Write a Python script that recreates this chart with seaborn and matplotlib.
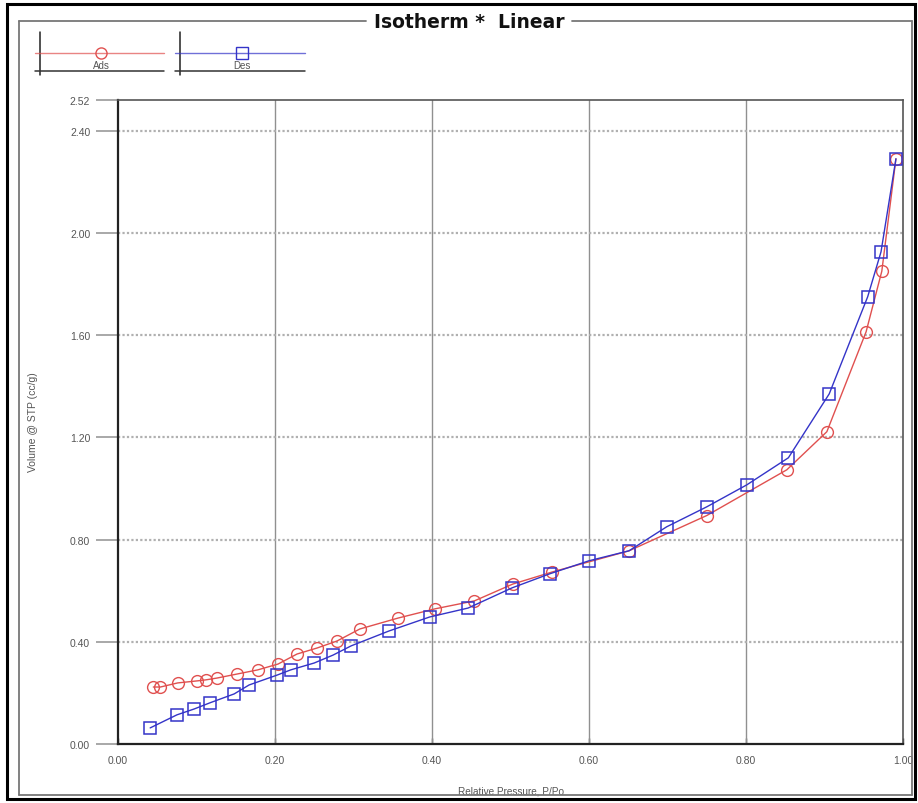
import matplotlib
matplotlib.use("Agg")
import matplotlib.pyplot as plt
import seaborn as sns
import pandas as pd
from matplotlib.lines import Line2D
from matplotlib.patches import Rectangle

# ---- data ----
ads_p = [0.045, 0.054, 0.076, 0.101, 0.112, 0.126, 0.152, 0.178, 0.204, 0.228,
         0.254, 0.279, 0.308, 0.357, 0.404, 0.454, 0.503, 0.553, 0.651, 0.750,
         0.852, 0.903, 0.953, 0.973, 0.991]
ads_v = [0.223, 0.223, 0.239, 0.247, 0.251, 0.258, 0.274, 0.290, 0.313, 0.352,
         0.376, 0.403, 0.450, 0.493, 0.529, 0.560, 0.626, 0.673, 0.756, 0.894,
         1.073, 1.222, 1.613, 1.850, 2.290]
des_p = [0.041, 0.075, 0.097, 0.117, 0.148, 0.167, 0.203, 0.220, 0.250, 0.274,
         0.297, 0.345, 0.397, 0.446, 0.502, 0.550, 0.600, 0.651, 0.699, 0.750,
         0.801, 0.854, 0.906, 0.955, 0.972, 0.991]
des_v = [0.063, 0.114, 0.137, 0.161, 0.196, 0.231, 0.270, 0.290, 0.317, 0.348,
         0.384, 0.442, 0.497, 0.532, 0.611, 0.666, 0.717, 0.756, 0.850, 0.928,
         1.014, 1.120, 1.370, 1.750, 1.926, 2.290]
x_ticks = [0.0, 0.2, 0.4, 0.6, 0.8, 1.0]
x_labels = ["0.00", "0.20", "0.40", "0.60", "0.80", "1.00"]
y_ticks = [0.0, 0.4, 0.8, 1.2, 1.6, 2.0, 2.4, 2.52]
y_labels = ["0.00", "0.40", "0.80", "1.20", "1.60", "2.00", "2.40", "2.52"]
title = "Isotherm *  Linear"
series_names = ["Ads", "Des"]

ADS_C = "#e0504f"
DES_C = "#3434c8"
TXT_C = "#555555"

sns.set_style("white")
plt.rcParams["font.family"] = ["Liberation Sans", "DejaVu Sans"]

W, H = 918, 804
fig = plt.figure(figsize=(W / 100, H / 100), dpi=100)


def fx(px):
    return px / W


def fy(py):
    return 1 - py / H


ax = fig.add_axes([fx(118), fy(745), (903 - 118) / W, (745 - 101) / H])

ads_df = pd.DataFrame({"p": ads_p, "v": ads_v})
des_df = pd.DataFrame({"p": des_p, "v": des_v})

sns.lineplot(data=ads_df, x="p", y="v", ax=ax, sort=False, color=ADS_C,
             lw=1.0, marker="o", markersize=8.5, markerfacecolor="none",
             markeredgecolor=ADS_C, markeredgewidth=1.0, zorder=3)
sns.lineplot(data=des_df, x="p", y="v", ax=ax, sort=False, color=DES_C,
             lw=1.0, marker="s", markersize=9, markerfacecolor="none",
             markeredgecolor=DES_C, markeredgewidth=1.1, zorder=4)

ax.set_xlim(0, 1.0)
ax.set_ylim(0, 2.52)
ax.set_xticks(x_ticks)
ax.set_xticklabels(x_labels)
ax.set_yticks(y_ticks)
ax.set_yticklabels(y_labels)

for v in x_ticks[1:-1]:
    ax.axvline(v, color="#909090", lw=1.0, zorder=1)
for v in y_ticks[1:-1]:
    ax.axhline(v, color="#b0b0b0", lw=1.6, ls=(0, (1, 1)), zorder=1)

ax.tick_params(axis="y", direction="out", length=16, width=1.2,
               color="#9a9a9a", labelsize=7.5, labelcolor=TXT_C, pad=4, left=True)
ax.tick_params(axis="x", direction="in", length=4, width=1.0,
               color="#333333", labelsize=7.5, labelcolor=TXT_C, pad=8, bottom=True)

for side in ["left", "bottom"]:
    ax.spines[side].set_color("#222222")
    ax.spines[side].set_linewidth(1.6)
for side in ["top", "right"]:
    ax.spines[side].set_color("#555555")
    ax.spines[side].set_linewidth(1.2)
    ax.spines[side].set_visible(True)

ax.set_xlabel("Relative Pressure, P/Po", fontsize=7.2, color=TXT_C)
ax.set_ylabel("Volume @ STP (cc/g)", fontsize=7.5, color=TXT_C)
ax.xaxis.set_label_coords(0.5, (745 - 787) / 644)
ax.yaxis.set_label_coords((38 - 118) / 785, (745 - 422) / 644)

# ---- outer frames ----
fig.add_artist(Rectangle((fx(7), fy(800)), (915 - 7) / W, (800 - 5) / H,
                         transform=fig.transFigure, fill=False,
                         edgecolor="black", lw=2.2))
gray = "#777777"
for (x0, y0, x1, y1) in [(19, 22, 366, 22), (572, 22, 912, 22),
                         (19, 22, 19, 796), (912, 22, 912, 796),
                         (19, 796, 912, 796)]:
    fig.add_artist(Line2D([fx(x0), fx(x1)], [fy(y0), fy(y1)],
                          transform=fig.transFigure, color=gray, lw=1.3))
fig.text(fx(469), fy(22), title, ha="center", va="center",
         fontsize=13.5, fontweight="bold", color="#111111",
         family=["DejaVu Sans"])

# ---- legend ----
items = [(series_names[0], ADS_C, "o", 35, 40, 164, 101),
         (series_names[1], DES_C, "s", 175, 180, 305, 242)]
for name, col, mk, x0, xv, x1, xm in items:
    fig.add_artist(Line2D([fx(xv), fx(xv)], [fy(33), fy(76)],
                          transform=fig.transFigure, color="#222222", lw=1.1))
    fig.add_artist(Line2D([fx(x0), fx(x1)], [fy(54), fy(54)],
                          transform=fig.transFigure, color=col, lw=1.0, alpha=0.7))
    fig.add_artist(Line2D([fx(x0), fx(x1)], [fy(72), fy(72)],
                          transform=fig.transFigure, color="#333333", lw=1.1))
    fig.add_artist(Line2D([fx(xm)], [fy(54)], transform=fig.transFigure,
                          marker=mk, markersize=8, markerfacecolor="none",
                          markeredgecolor=col, markeredgewidth=1.0))
    fig.text(fx(xm), fy(66), name, ha="center", va="center",
             fontsize=7, color=TXT_C)

fig.savefig("out.png", dpi=100)
